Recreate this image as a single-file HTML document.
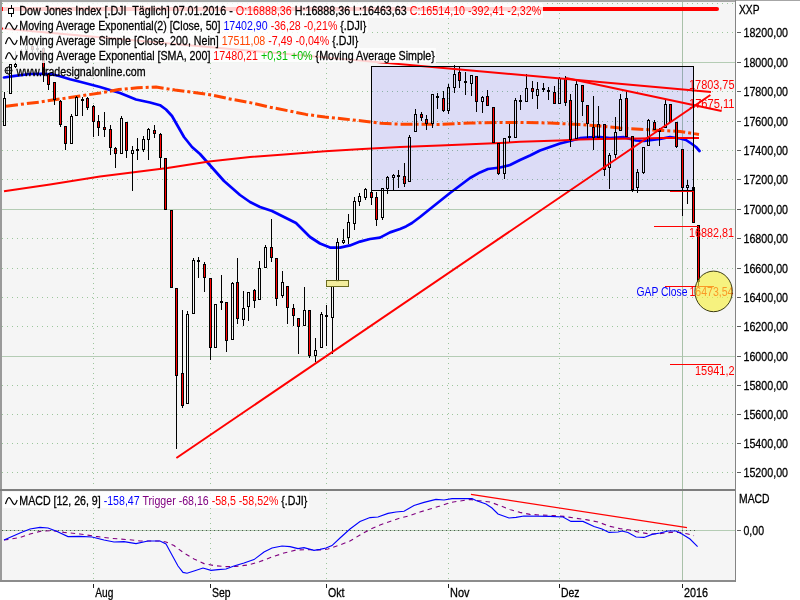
<!DOCTYPE html>
<html lang="de"><head><meta charset="utf-8"><title>Dow Jones Index Chart</title>
<style>html,body{margin:0;padding:0;background:#fff;overflow:hidden}svg{display:block}text{font-family:"Liberation Sans",Arial,sans-serif;font-size:12px;stroke-width:0.28px;white-space:pre}</style></head><body>
<svg width="800" height="600" viewBox="0 0 800 600">
<rect x="0" y="0" width="800" height="600" fill="#ffffff"/>
<rect x="2" y="2" width="733.5" height="487" fill="#f5f5f5"/>
<rect x="2" y="491" width="733.5" height="89.5" fill="#f5f5f5"/>
<g shape-rendering="crispEdges" fill="none">
<line x1="2" y1="3.5" x2="735" y2="3.5" stroke="#9cc69c" stroke-width="1" stroke-dasharray="1 4"/>
<line x1="2" y1="32.5" x2="735" y2="32.5" stroke="#9cc69c" stroke-width="1" stroke-dasharray="1 4"/>
<line x1="2" y1="62.5" x2="735" y2="62.5" stroke="#b4ccb4" stroke-width="1"/>
<line x1="2" y1="91.5" x2="735" y2="91.5" stroke="#9cc69c" stroke-width="1" stroke-dasharray="1 4"/>
<line x1="2" y1="121.5" x2="735" y2="121.5" stroke="#9cc69c" stroke-width="1" stroke-dasharray="1 4"/>
<line x1="2" y1="150.5" x2="735" y2="150.5" stroke="#9cc69c" stroke-width="1" stroke-dasharray="1 4"/>
<line x1="2" y1="179.5" x2="735" y2="179.5" stroke="#9cc69c" stroke-width="1" stroke-dasharray="1 4"/>
<line x1="2" y1="209.5" x2="735" y2="209.5" stroke="#b4ccb4" stroke-width="1"/>
<line x1="2" y1="238.5" x2="735" y2="238.5" stroke="#9cc69c" stroke-width="1" stroke-dasharray="1 4"/>
<line x1="2" y1="268.5" x2="735" y2="268.5" stroke="#9cc69c" stroke-width="1" stroke-dasharray="1 4"/>
<line x1="2" y1="297.5" x2="735" y2="297.5" stroke="#9cc69c" stroke-width="1" stroke-dasharray="1 4"/>
<line x1="2" y1="326.5" x2="735" y2="326.5" stroke="#9cc69c" stroke-width="1" stroke-dasharray="1 4"/>
<line x1="2" y1="356.5" x2="735" y2="356.5" stroke="#b4ccb4" stroke-width="1"/>
<line x1="2" y1="385.5" x2="735" y2="385.5" stroke="#9cc69c" stroke-width="1" stroke-dasharray="1 4"/>
<line x1="2" y1="414.5" x2="735" y2="414.5" stroke="#9cc69c" stroke-width="1" stroke-dasharray="1 4"/>
<line x1="2" y1="443.5" x2="735" y2="443.5" stroke="#9cc69c" stroke-width="1" stroke-dasharray="1 4"/>
<line x1="2" y1="472.5" x2="735" y2="472.5" stroke="#9cc69c" stroke-width="1" stroke-dasharray="1 4"/>
<line x1="93.5" y1="3" x2="93.5" y2="488" stroke="#9cc69c" stroke-width="1" stroke-dasharray="1 4"/>
<line x1="93.5" y1="493" x2="93.5" y2="580" stroke="#9cc69c" stroke-width="1" stroke-dasharray="1 4"/>
<line x1="210.5" y1="3" x2="210.5" y2="488" stroke="#9cc69c" stroke-width="1" stroke-dasharray="1 4"/>
<line x1="210.5" y1="493" x2="210.5" y2="580" stroke="#9cc69c" stroke-width="1" stroke-dasharray="1 4"/>
<line x1="326.5" y1="3" x2="326.5" y2="488" stroke="#9cc69c" stroke-width="1" stroke-dasharray="1 4"/>
<line x1="326.5" y1="493" x2="326.5" y2="580" stroke="#9cc69c" stroke-width="1" stroke-dasharray="1 4"/>
<line x1="448.5" y1="3" x2="448.5" y2="488" stroke="#9cc69c" stroke-width="1" stroke-dasharray="1 4"/>
<line x1="448.5" y1="493" x2="448.5" y2="580" stroke="#9cc69c" stroke-width="1" stroke-dasharray="1 4"/>
<line x1="559.5" y1="3" x2="559.5" y2="488" stroke="#9cc69c" stroke-width="1" stroke-dasharray="1 4"/>
<line x1="559.5" y1="493" x2="559.5" y2="580" stroke="#9cc69c" stroke-width="1" stroke-dasharray="1 4"/>
<line x1="682.5" y1="2" x2="682.5" y2="580" stroke="#a9c1a9" stroke-width="1"/>
<line x1="2" y1="530.5" x2="735" y2="530.5" stroke="#b4ccb4" stroke-width="1"/>
<line x1="2" y1="530.5" x2="697" y2="530.5" stroke="#4a5a4a" stroke-width="1" stroke-dasharray="1 3"/>
</g>
<rect x="371.5" y="66.5" width="322" height="124" fill="#0000ff" fill-opacity="0.1" stroke="none"/>
<polyline points="4.0,77.5 15.0,75.8 30.0,74.0 42.0,73.8 52.0,74.3 60.0,76.2 70.0,79.2 80.0,81.7 100.0,87.0 120.0,93.0 136.0,99.5 150.0,102.5 160.0,105.2 166.0,109.5 172.0,116.0 178.0,126.5 184.0,137.0 192.0,147.0 200.0,154.0 208.0,163.0 216.0,172.0 224.0,181.0 232.0,188.0 240.0,195.0 250.0,202.0 260.0,207.0 272.0,211.0 284.0,217.0 296.0,223.0 303.0,230.0 310.0,237.0 320.0,243.5 330.0,247.6 340.0,247.6 350.0,245.4 360.0,241.6 370.0,239.0 380.0,237.6 390.0,232.4 400.0,229.0 406.0,226.4 412.0,223.0 420.0,217.0 430.0,209.0 440.0,201.0 450.0,193.0 460.0,185.5 470.0,178.0 480.0,172.4 488.0,169.0 500.0,167.5 510.0,165.0 520.0,160.0 530.0,155.5 540.0,150.5 550.0,147.0 560.0,143.5 570.0,141.0 580.0,138.2 590.0,137.4 600.0,137.0 610.0,138.0 624.0,137.2 636.0,140.5 644.0,141.0 660.0,139.0 670.0,137.0 680.0,138.5 686.0,140.0 692.0,144.0 696.0,147.0 699.5,151.0" fill="none" stroke="#0000ff" stroke-width="2.7" stroke-linejoin="round" stroke-linecap="round"/>
<polyline points="4.0,106.4 40.0,102.0 80.0,96.0 100.0,93.0 118.8,89.5 137.5,87.8 156.0,87.0 175.0,90.0 194.0,92.4 212.5,95.2 231.0,99.2 250.0,102.6 269.0,107.0 287.5,110.6 306.0,114.4 325.0,117.0 344.0,119.0 362.5,121.0 381.0,123.2 400.0,124.2 440.0,124.4 470.0,123.0 500.0,122.4 520.0,122.4 550.0,123.0 580.0,124.6 600.0,126.0 620.0,128.0 640.0,129.2 660.0,130.4 680.0,131.4 690.0,133.0 699.0,134.4" fill="none" stroke="#ff4500" stroke-width="3" stroke-dasharray="12 3 3 3" stroke-dashoffset="18.97" stroke-linejoin="round"/>
<polyline points="4.0,191.2 50.0,184.5 100.0,176.5 120.0,174.0 167.5,168.0 209.0,161.5 250.0,157.0 287.5,154.2 325.0,151.3 362.5,149.0 400.0,147.0 440.0,145.4 500.0,143.0 520.0,141.8 560.0,140.4 580.0,139.6 600.0,139.0 620.0,138.7 640.0,138.4 660.0,138.0 699.0,138.0" fill="none" stroke="#ff0000" stroke-width="2" stroke-linejoin="round"/>
<g shape-rendering="crispEdges" stroke="#000" stroke-width="1">
<line x1="4.5" y1="92" x2="4.5" y2="98"/>
<rect x="3.5" y="98.5" width="2" height="27" fill="none"/>
<rect x="9.5" y="64.5" width="2" height="29" fill="none"/>
<line x1="15.5" y1="51" x2="15.5" y2="64"/>
<line x1="15.5" y1="67" x2="15.5" y2="68"/>
<rect x="14.5" y="64.5" width="2" height="2" fill="none"/>
<line x1="21.5" y1="49" x2="21.5" y2="51"/>
<line x1="21.5" y1="53" x2="21.5" y2="60"/>
<rect x="20.5" y="51.5" width="2" height="1" fill="#000000"/>
<line x1="26.5" y1="44" x2="26.5" y2="45"/>
<line x1="26.5" y1="50" x2="26.5" y2="51"/>
<rect x="25.5" y="45.5" width="2" height="4" fill="none"/>
<line x1="32.5" y1="45" x2="32.5" y2="46"/>
<line x1="32.5" y1="50" x2="32.5" y2="53"/>
<rect x="31.5" y="46.5" width="2" height="3" fill="#ff0000"/>
<line x1="37.5" y1="45" x2="37.5" y2="48"/>
<line x1="37.5" y1="50" x2="37.5" y2="52"/>
<rect x="36.5" y="48.5" width="2" height="1" fill="none"/>
<line x1="43.5" y1="47" x2="43.5" y2="48"/>
<line x1="43.5" y1="75" x2="43.5" y2="82"/>
<rect x="42.5" y="48.5" width="2" height="26" fill="#ff0000"/>
<line x1="48.5" y1="73" x2="48.5" y2="74"/>
<line x1="48.5" y1="85" x2="48.5" y2="90"/>
<rect x="47.5" y="74.5" width="2" height="10" fill="#ff0000"/>
<line x1="54.5" y1="100" x2="54.5" y2="105"/>
<rect x="53.5" y="82.5" width="2" height="17" fill="#ff0000"/>
<line x1="60.5" y1="100" x2="60.5" y2="101"/>
<line x1="60.5" y1="125" x2="60.5" y2="127"/>
<rect x="59.5" y="101.5" width="2" height="23" fill="#ff0000"/>
<line x1="65.5" y1="144" x2="65.5" y2="150"/>
<rect x="64.5" y="126.5" width="2" height="17" fill="#ff0000"/>
<line x1="71.5" y1="114" x2="71.5" y2="116"/>
<rect x="70.5" y="116.5" width="2" height="27" fill="none"/>
<line x1="76.5" y1="96" x2="76.5" y2="97"/>
<rect x="75.5" y="97.5" width="2" height="18" fill="none"/>
<line x1="82.5" y1="97" x2="82.5" y2="99"/>
<line x1="82.5" y1="101" x2="82.5" y2="116"/>
<rect x="81.5" y="99.5" width="2" height="1" fill="#000000"/>
<line x1="87.5" y1="97" x2="87.5" y2="98"/>
<line x1="87.5" y1="108" x2="87.5" y2="110"/>
<rect x="86.5" y="98.5" width="2" height="9" fill="#ff0000"/>
<line x1="93.5" y1="105" x2="93.5" y2="106"/>
<line x1="93.5" y1="122" x2="93.5" y2="137"/>
<rect x="92.5" y="106.5" width="2" height="15" fill="#ff0000"/>
<line x1="98.5" y1="115" x2="98.5" y2="121"/>
<line x1="98.5" y1="128" x2="98.5" y2="136"/>
<rect x="97.5" y="121.5" width="2" height="6" fill="#ff0000"/>
<line x1="104.5" y1="112" x2="104.5" y2="127"/>
<line x1="104.5" y1="130" x2="104.5" y2="137"/>
<rect x="103.5" y="127.5" width="2" height="2" fill="#ff0000"/>
<line x1="110.5" y1="125" x2="110.5" y2="129"/>
<line x1="110.5" y1="148" x2="110.5" y2="155"/>
<rect x="109.5" y="129.5" width="2" height="18" fill="#ff0000"/>
<line x1="115.5" y1="147" x2="115.5" y2="148"/>
<line x1="115.5" y1="154" x2="115.5" y2="168"/>
<rect x="114.5" y="148.5" width="2" height="5" fill="#ff0000"/>
<line x1="121.5" y1="116" x2="121.5" y2="118"/>
<rect x="120.5" y="118.5" width="2" height="35" fill="none"/>
<line x1="126.5" y1="151" x2="126.5" y2="158"/>
<rect x="125.5" y="122.5" width="2" height="28" fill="#ff0000"/>
<line x1="132.5" y1="146" x2="132.5" y2="150"/>
<line x1="132.5" y1="154" x2="132.5" y2="191"/>
<rect x="131.5" y="150.5" width="2" height="3" fill="none"/>
<line x1="137.5" y1="138" x2="137.5" y2="149"/>
<line x1="137.5" y1="151" x2="137.5" y2="160"/>
<rect x="136.5" y="149.5" width="2" height="1" fill="#000000"/>
<line x1="143.5" y1="136" x2="143.5" y2="139"/>
<line x1="143.5" y1="150" x2="143.5" y2="152"/>
<rect x="142.5" y="139.5" width="2" height="10" fill="none"/>
<line x1="148.5" y1="128" x2="148.5" y2="129"/>
<line x1="148.5" y1="140" x2="148.5" y2="160"/>
<rect x="147.5" y="129.5" width="2" height="10" fill="none"/>
<line x1="154.5" y1="125" x2="154.5" y2="130"/>
<line x1="154.5" y1="134" x2="154.5" y2="138"/>
<rect x="153.5" y="130.5" width="2" height="3" fill="#ff0000"/>
<line x1="160.5" y1="133" x2="160.5" y2="134"/>
<line x1="160.5" y1="158" x2="160.5" y2="168"/>
<rect x="159.5" y="134.5" width="2" height="23" fill="#ff0000"/>
<rect x="164.5" y="158.5" width="2" height="51" fill="#ff0000"/>
<rect x="170.5" y="210.5" width="2" height="77" fill="#ff0000"/>
<line x1="176.5" y1="376" x2="176.5" y2="449"/>
<rect x="175.5" y="288.5" width="2" height="87" fill="#ff0000"/>
<line x1="182.5" y1="310" x2="182.5" y2="373"/>
<line x1="182.5" y1="406" x2="182.5" y2="408"/>
<rect x="181.5" y="373.5" width="2" height="32" fill="#ff0000"/>
<line x1="187.5" y1="311" x2="187.5" y2="314"/>
<rect x="186.5" y="314.5" width="2" height="89" fill="none"/>
<line x1="193.5" y1="258" x2="193.5" y2="260"/>
<rect x="192.5" y="260.5" width="2" height="53" fill="none"/>
<line x1="198.5" y1="257" x2="198.5" y2="260"/>
<line x1="198.5" y1="262" x2="198.5" y2="278"/>
<rect x="197.5" y="260.5" width="2" height="1" fill="#000000"/>
<line x1="204.5" y1="262" x2="204.5" y2="264"/>
<line x1="204.5" y1="278" x2="204.5" y2="292"/>
<rect x="203.5" y="264.5" width="2" height="13" fill="#ff0000"/>
<line x1="210.5" y1="348" x2="210.5" y2="360"/>
<rect x="209.5" y="278.5" width="2" height="69" fill="#ff0000"/>
<rect x="214.5" y="304.5" width="2" height="43" fill="none"/>
<line x1="221.5" y1="275" x2="221.5" y2="301"/>
<line x1="221.5" y1="303" x2="221.5" y2="310"/>
<rect x="220.5" y="301.5" width="2" height="1" fill="#000000"/>
<line x1="226.5" y1="341" x2="226.5" y2="352"/>
<rect x="225.5" y="302.5" width="2" height="38" fill="#ff0000"/>
<line x1="232.5" y1="282" x2="232.5" y2="283"/>
<rect x="231.5" y="283.5" width="2" height="56" fill="none"/>
<line x1="237.5" y1="258" x2="237.5" y2="282"/>
<line x1="237.5" y1="319" x2="237.5" y2="324"/>
<rect x="236.5" y="282.5" width="2" height="36" fill="#ff0000"/>
<line x1="243.5" y1="291" x2="243.5" y2="308"/>
<line x1="243.5" y1="320" x2="243.5" y2="326"/>
<rect x="242.5" y="308.5" width="2" height="11" fill="none"/>
<line x1="248.5" y1="307" x2="248.5" y2="321"/>
<rect x="247.5" y="292.5" width="2" height="14" fill="none"/>
<line x1="254.5" y1="289" x2="254.5" y2="290"/>
<line x1="254.5" y1="301" x2="254.5" y2="308"/>
<rect x="253.5" y="290.5" width="2" height="10" fill="#ff0000"/>
<line x1="259.5" y1="261" x2="259.5" y2="268"/>
<rect x="258.5" y="268.5" width="2" height="31" fill="none"/>
<line x1="265.5" y1="245" x2="265.5" y2="247"/>
<rect x="264.5" y="247.5" width="2" height="20" fill="none"/>
<line x1="271.5" y1="219" x2="271.5" y2="247"/>
<line x1="271.5" y1="258" x2="271.5" y2="262"/>
<rect x="270.5" y="247.5" width="2" height="10" fill="#ff0000"/>
<line x1="276.5" y1="299" x2="276.5" y2="306"/>
<rect x="275.5" y="258.5" width="2" height="40" fill="#ff0000"/>
<line x1="282.5" y1="271" x2="282.5" y2="282"/>
<line x1="282.5" y1="296" x2="282.5" y2="298"/>
<rect x="281.5" y="282.5" width="2" height="13" fill="none"/>
<line x1="287.5" y1="308" x2="287.5" y2="324"/>
<rect x="286.5" y="286.5" width="2" height="21" fill="#ff0000"/>
<line x1="293.5" y1="304" x2="293.5" y2="308"/>
<line x1="293.5" y1="316" x2="293.5" y2="326"/>
<rect x="292.5" y="308.5" width="2" height="7" fill="#ff0000"/>
<line x1="298.5" y1="327" x2="298.5" y2="354"/>
<rect x="297.5" y="318.5" width="2" height="8" fill="#ff0000"/>
<line x1="304.5" y1="287" x2="304.5" y2="310"/>
<rect x="303.5" y="310.5" width="2" height="15" fill="none"/>
<line x1="309.5" y1="356" x2="309.5" y2="358"/>
<rect x="308.5" y="310.5" width="2" height="45" fill="#ff0000"/>
<line x1="315.5" y1="338" x2="315.5" y2="350"/>
<line x1="315.5" y1="356" x2="315.5" y2="362"/>
<rect x="314.5" y="350.5" width="2" height="5" fill="none"/>
<line x1="321.5" y1="312" x2="321.5" y2="314"/>
<rect x="320.5" y="314.5" width="2" height="33" fill="none"/>
<line x1="326.5" y1="305" x2="326.5" y2="315"/>
<line x1="326.5" y1="317" x2="326.5" y2="346"/>
<rect x="325.5" y="315.5" width="2" height="1" fill="#000000"/>
<line x1="332.5" y1="318" x2="332.5" y2="354"/>
<rect x="331.5" y="286.5" width="2" height="31" fill="none"/>
<line x1="337.5" y1="238" x2="337.5" y2="242"/>
<rect x="336.5" y="242.5" width="2" height="39" fill="none"/>
<line x1="343.5" y1="229" x2="343.5" y2="240"/>
<line x1="343.5" y1="243" x2="343.5" y2="244"/>
<rect x="342.5" y="240.5" width="2" height="2" fill="none"/>
<line x1="348.5" y1="214" x2="348.5" y2="222"/>
<line x1="348.5" y1="238" x2="348.5" y2="244"/>
<rect x="347.5" y="222.5" width="2" height="15" fill="none"/>
<line x1="354.5" y1="197" x2="354.5" y2="201"/>
<line x1="354.5" y1="224" x2="354.5" y2="230"/>
<rect x="353.5" y="201.5" width="2" height="22" fill="none"/>
<line x1="359.5" y1="193" x2="359.5" y2="196"/>
<line x1="359.5" y1="202" x2="359.5" y2="206"/>
<rect x="358.5" y="196.5" width="2" height="5" fill="none"/>
<line x1="365.5" y1="188" x2="365.5" y2="189"/>
<line x1="365.5" y1="198" x2="365.5" y2="200"/>
<rect x="364.5" y="189.5" width="2" height="8" fill="none"/>
<line x1="371.5" y1="191" x2="371.5" y2="192"/>
<line x1="371.5" y1="198" x2="371.5" y2="205"/>
<rect x="370.5" y="192.5" width="2" height="5" fill="#ff0000"/>
<line x1="376.5" y1="192" x2="376.5" y2="197"/>
<line x1="376.5" y1="220" x2="376.5" y2="226"/>
<rect x="375.5" y="197.5" width="2" height="22" fill="#ff0000"/>
<line x1="382.5" y1="218" x2="382.5" y2="220"/>
<rect x="381.5" y="188.5" width="2" height="29" fill="none"/>
<line x1="387.5" y1="176" x2="387.5" y2="177"/>
<line x1="387.5" y1="189" x2="387.5" y2="194"/>
<rect x="386.5" y="177.5" width="2" height="11" fill="none"/>
<line x1="393.5" y1="174" x2="393.5" y2="175"/>
<line x1="393.5" y1="178" x2="393.5" y2="190"/>
<rect x="392.5" y="175.5" width="2" height="2" fill="none"/>
<line x1="398.5" y1="170" x2="398.5" y2="175"/>
<line x1="398.5" y1="177" x2="398.5" y2="188"/>
<rect x="397.5" y="175.5" width="2" height="1" fill="#ff0000"/>
<line x1="404.5" y1="163" x2="404.5" y2="176"/>
<line x1="404.5" y1="184" x2="404.5" y2="187"/>
<rect x="403.5" y="176.5" width="2" height="7" fill="#ff0000"/>
<line x1="409.5" y1="135" x2="409.5" y2="137"/>
<rect x="408.5" y="137.5" width="2" height="44" fill="none"/>
<line x1="415.5" y1="109" x2="415.5" y2="114"/>
<rect x="414.5" y="114.5" width="2" height="17" fill="none"/>
<line x1="421.5" y1="112" x2="421.5" y2="114"/>
<line x1="421.5" y1="118" x2="421.5" y2="121"/>
<rect x="420.5" y="114.5" width="2" height="3" fill="#ff0000"/>
<line x1="426.5" y1="115" x2="426.5" y2="119"/>
<line x1="426.5" y1="124" x2="426.5" y2="130"/>
<rect x="425.5" y="119.5" width="2" height="4" fill="#ff0000"/>
<line x1="432.5" y1="124" x2="432.5" y2="128"/>
<rect x="431.5" y="94.5" width="2" height="29" fill="none"/>
<line x1="437.5" y1="93" x2="437.5" y2="96"/>
<line x1="437.5" y1="98" x2="437.5" y2="109"/>
<rect x="436.5" y="96.5" width="2" height="1" fill="#ff0000"/>
<line x1="443.5" y1="91" x2="443.5" y2="98"/>
<line x1="443.5" y1="111" x2="443.5" y2="112"/>
<rect x="442.5" y="98.5" width="2" height="12" fill="#ff0000"/>
<line x1="448.5" y1="84" x2="448.5" y2="87"/>
<line x1="448.5" y1="111" x2="448.5" y2="114"/>
<rect x="447.5" y="87.5" width="2" height="23" fill="none"/>
<line x1="454.5" y1="65" x2="454.5" y2="74"/>
<line x1="454.5" y1="88" x2="454.5" y2="93"/>
<rect x="453.5" y="74.5" width="2" height="13" fill="none"/>
<line x1="459.5" y1="67" x2="459.5" y2="72"/>
<line x1="459.5" y1="81" x2="459.5" y2="88"/>
<rect x="458.5" y="72.5" width="2" height="8" fill="#ff0000"/>
<line x1="465.5" y1="72" x2="465.5" y2="81"/>
<line x1="465.5" y1="83" x2="465.5" y2="95"/>
<rect x="464.5" y="81.5" width="2" height="1" fill="#000000"/>
<line x1="471.5" y1="84" x2="471.5" y2="96"/>
<rect x="470.5" y="75.5" width="2" height="8" fill="none"/>
<line x1="476.5" y1="102" x2="476.5" y2="112"/>
<rect x="475.5" y="76.5" width="2" height="25" fill="#ff0000"/>
<line x1="482.5" y1="96" x2="482.5" y2="97"/>
<line x1="482.5" y1="102" x2="482.5" y2="113"/>
<rect x="481.5" y="97.5" width="2" height="4" fill="none"/>
<line x1="487.5" y1="90" x2="487.5" y2="96"/>
<rect x="486.5" y="96.5" width="2" height="9" fill="#ff0000"/>
<rect x="492.5" y="107.5" width="2" height="35" fill="#ff0000"/>
<line x1="498.5" y1="174" x2="498.5" y2="175"/>
<rect x="497.5" y="143.5" width="2" height="30" fill="#ff0000"/>
<line x1="504.5" y1="174" x2="504.5" y2="179"/>
<rect x="503.5" y="138.5" width="2" height="35" fill="none"/>
<line x1="509.5" y1="124" x2="509.5" y2="136"/>
<line x1="509.5" y1="138" x2="509.5" y2="142"/>
<rect x="508.5" y="136.5" width="2" height="1" fill="#000000"/>
<line x1="515.5" y1="98" x2="515.5" y2="100"/>
<rect x="514.5" y="100.5" width="2" height="37" fill="none"/>
<line x1="520.5" y1="95" x2="520.5" y2="100"/>
<line x1="520.5" y1="102" x2="520.5" y2="110"/>
<rect x="519.5" y="100.5" width="2" height="1" fill="#000000"/>
<line x1="526.5" y1="74" x2="526.5" y2="88"/>
<rect x="525.5" y="88.5" width="2" height="13" fill="none"/>
<line x1="532.5" y1="81" x2="532.5" y2="88"/>
<line x1="532.5" y1="92" x2="532.5" y2="99"/>
<rect x="531.5" y="88.5" width="2" height="3" fill="#ff0000"/>
<line x1="537.5" y1="82" x2="537.5" y2="89"/>
<line x1="537.5" y1="96" x2="537.5" y2="109"/>
<rect x="536.5" y="89.5" width="2" height="6" fill="none"/>
<line x1="543.5" y1="83" x2="543.5" y2="88"/>
<line x1="543.5" y1="90" x2="543.5" y2="92"/>
<rect x="542.5" y="88.5" width="2" height="1" fill="#000000"/>
<line x1="548.5" y1="87" x2="548.5" y2="90"/>
<line x1="548.5" y1="92" x2="548.5" y2="100"/>
<rect x="547.5" y="90.5" width="2" height="1" fill="#000000"/>
<line x1="554.5" y1="86" x2="554.5" y2="92"/>
<rect x="553.5" y="92.5" width="2" height="11" fill="#ff0000"/>
<line x1="559.5" y1="77" x2="559.5" y2="78"/>
<rect x="558.5" y="78.5" width="2" height="25" fill="none"/>
<line x1="565.5" y1="76" x2="565.5" y2="78"/>
<line x1="565.5" y1="103" x2="565.5" y2="106"/>
<rect x="564.5" y="78.5" width="2" height="24" fill="#ff0000"/>
<line x1="570.5" y1="94" x2="570.5" y2="100"/>
<line x1="570.5" y1="140" x2="570.5" y2="147"/>
<rect x="569.5" y="100.5" width="2" height="39" fill="#ff0000"/>
<line x1="576.5" y1="81" x2="576.5" y2="84"/>
<rect x="575.5" y="84.5" width="2" height="54" fill="none"/>
<line x1="582.5" y1="102" x2="582.5" y2="116"/>
<rect x="581.5" y="85.5" width="2" height="16" fill="#ff0000"/>
<line x1="587.5" y1="124" x2="587.5" y2="138"/>
<rect x="586.5" y="105.5" width="2" height="18" fill="#ff0000"/>
<line x1="593.5" y1="96" x2="593.5" y2="127"/>
<line x1="593.5" y1="138" x2="593.5" y2="150"/>
<rect x="592.5" y="127.5" width="2" height="10" fill="#ff0000"/>
<line x1="598.5" y1="106" x2="598.5" y2="124"/>
<rect x="597.5" y="124.5" width="2" height="13" fill="none"/>
<line x1="604.5" y1="170" x2="604.5" y2="176"/>
<rect x="603.5" y="124.5" width="2" height="45" fill="#ff0000"/>
<line x1="609.5" y1="153" x2="609.5" y2="155"/>
<line x1="609.5" y1="168" x2="609.5" y2="189"/>
<rect x="608.5" y="155.5" width="2" height="12" fill="none"/>
<line x1="615.5" y1="117" x2="615.5" y2="132"/>
<line x1="615.5" y1="155" x2="615.5" y2="158"/>
<rect x="614.5" y="132.5" width="2" height="22" fill="none"/>
<line x1="620.5" y1="94" x2="620.5" y2="99"/>
<rect x="619.5" y="99.5" width="2" height="31" fill="none"/>
<line x1="626.5" y1="91" x2="626.5" y2="98"/>
<rect x="625.5" y="98.5" width="2" height="38" fill="#ff0000"/>
<line x1="632.5" y1="190" x2="632.5" y2="192"/>
<rect x="631.5" y="136.5" width="2" height="53" fill="#ff0000"/>
<line x1="637.5" y1="169" x2="637.5" y2="172"/>
<line x1="637.5" y1="188" x2="637.5" y2="193"/>
<rect x="636.5" y="172.5" width="2" height="15" fill="none"/>
<line x1="643.5" y1="173" x2="643.5" y2="174"/>
<rect x="642.5" y="147.5" width="2" height="25" fill="none"/>
<line x1="648.5" y1="119" x2="648.5" y2="120"/>
<rect x="647.5" y="120.5" width="2" height="25" fill="none"/>
<line x1="654.5" y1="120" x2="654.5" y2="122"/>
<rect x="653.5" y="122.5" width="2" height="7" fill="#ff0000"/>
<line x1="659.5" y1="128" x2="659.5" y2="130"/>
<line x1="659.5" y1="132" x2="659.5" y2="146"/>
<rect x="658.5" y="130.5" width="2" height="1" fill="#000000"/>
<line x1="665.5" y1="100" x2="665.5" y2="104"/>
<rect x="664.5" y="104.5" width="2" height="23" fill="none"/>
<rect x="669.5" y="104.5" width="2" height="17" fill="#ff0000"/>
<line x1="676.5" y1="147" x2="676.5" y2="148"/>
<rect x="675.5" y="122.5" width="2" height="24" fill="#ff0000"/>
<line x1="682.5" y1="188" x2="682.5" y2="216"/>
<rect x="681.5" y="149.5" width="2" height="38" fill="#ff0000"/>
<line x1="687.5" y1="180" x2="687.5" y2="185"/>
<line x1="687.5" y1="188" x2="687.5" y2="204"/>
<rect x="686.5" y="185.5" width="2" height="2" fill="none"/>
<rect x="692.5" y="187.5" width="2" height="35" fill="#ff0000"/>
<line x1="698.5" y1="282" x2="698.5" y2="288"/>
<rect x="697.5" y="225.5" width="2" height="56" fill="#ff0000"/>
</g>
<rect x="326.5" y="280.5" width="22" height="6" fill="#f3ec94" fill-opacity="0.9" stroke="#6b6b20" stroke-width="1" shape-rendering="crispEdges"/>
<text x="689" y="89" fill="#ff0000" textLength="45.5" lengthAdjust="spacingAndGlyphs">17803,75</text>
<text x="689" y="108" fill="#ff0000" textLength="45.5" lengthAdjust="spacingAndGlyphs">17675,11</text>
<text x="689" y="237" fill="#ff0000" textLength="45" lengthAdjust="spacingAndGlyphs">16882,81</text>
<text x="636.5" y="296" fill="#0000ff" textLength="51" lengthAdjust="spacingAndGlyphs">GAP Close</text>
<text x="689.5" y="296" fill="#ff0000" textLength="44" lengthAdjust="spacingAndGlyphs">16473,54</text>
<text x="695" y="375" fill="#ff0000" textLength="39.5" lengthAdjust="spacingAndGlyphs">15941,2</text>
<g stroke="#ff0000" fill="none">
<line x1="2" y1="9" x2="717" y2="9" stroke-width="4" stroke-linecap="round"/>
<line x1="2" y1="28.4" x2="711" y2="92" stroke-width="2"/>
<line x1="566" y1="78" x2="721.6" y2="111" stroke-width="2"/>
<line x1="176.4" y1="458" x2="710.4" y2="95" stroke-width="2"/>
<line x1="670" y1="191.5" x2="693.5" y2="191.5" stroke-width="1" shape-rendering="crispEdges"/>
<line x1="654" y1="226.5" x2="699" y2="226.5" stroke-width="1" shape-rendering="crispEdges"/>
<line x1="665" y1="286.5" x2="714" y2="286.5" stroke-width="1" shape-rendering="crispEdges"/>
<line x1="670" y1="364.5" x2="720.6" y2="364.5" stroke-width="1" shape-rendering="crispEdges"/>
<line x1="471" y1="494.4" x2="687" y2="527.6" stroke-width="1.2"/>
</g>
<rect x="371.5" y="66.5" width="322" height="124" fill="none" stroke="#000" stroke-width="1" shape-rendering="crispEdges"/>
<ellipse cx="713.6" cy="291.4" rx="18.7" ry="20.3" fill="#f6f03c" fill-opacity="0.64" stroke="#3c3c14" stroke-width="1"/>
<polyline points="4.0,540.0 20.0,537.6 30.0,534.0 40.0,531.4 52.0,530.6 64.0,532.4 80.0,534.0 96.0,536.4 112.0,538.4 128.0,539.6 140.0,541.0 160.0,541.0 166.0,542.0 174.0,545.6 184.0,553.0 194.0,559.0 204.0,563.6 214.0,565.6 226.0,566.6 236.0,566.4 248.0,565.0 260.0,561.6 272.0,557.0 284.0,553.0 296.0,550.0 308.0,549.6 320.0,550.0 328.0,549.0 340.0,545.0 350.0,541.0 360.0,535.0 370.0,529.4 380.0,525.0 390.0,521.4 400.0,518.0 410.0,515.6 420.0,512.0 430.0,509.0 440.0,506.0 450.0,502.6 460.0,501.0 470.0,499.4 478.0,500.6 490.0,502.0 500.0,505.6 510.0,509.6 520.0,512.4 530.0,514.4 540.0,515.0 554.0,515.6 564.0,516.4 574.0,518.0 586.0,519.6 598.0,522.0 610.0,526.4 620.0,528.6 630.0,530.0 640.0,532.4 650.0,534.0 660.0,533.6 670.0,532.4 680.0,532.4 688.0,534.0 694.0,535.6" fill="none" stroke="#800080" stroke-width="1.1" stroke-dasharray="4.5 4"/>
<polyline points="4.0,540.0 20.0,533.0 30.0,529.0 40.0,527.4 48.0,528.0 56.0,531.0 68.0,536.6 80.0,536.4 92.0,537.0 104.0,540.0 114.0,542.0 124.0,541.6 136.0,543.6 148.0,541.0 160.0,541.0 166.0,544.0 172.0,555.0 178.0,566.0 183.0,572.4 187.0,573.2 194.0,571.0 203.0,568.0 211.0,570.4 218.0,569.6 226.0,569.0 234.0,566.0 244.0,563.0 254.0,559.6 264.0,552.0 272.0,548.0 282.0,546.0 290.0,546.6 298.0,548.6 304.0,547.6 314.0,550.4 320.0,549.4 326.0,548.0 332.0,545.6 340.0,538.0 350.0,529.0 360.0,521.6 370.0,517.6 378.0,517.0 388.0,513.4 396.0,512.0 404.0,511.2 414.0,505.6 424.0,502.4 436.0,499.4 444.0,500.0 452.0,498.6 472.0,498.6 476.0,500.6 486.0,504.0 492.0,508.0 498.0,514.0 509.0,518.0 516.0,517.4 524.0,516.0 550.0,516.4 563.0,517.0 571.0,521.4 583.0,521.4 594.0,526.4 602.0,529.0 609.0,532.4 618.0,532.0 622.0,531.0 628.0,532.4 636.0,537.0 644.0,537.4 652.0,534.4 660.0,533.0 668.0,531.0 676.0,531.0 682.0,534.0 690.0,539.0 697.6,546.6" fill="none" stroke="#0000ff" stroke-width="1.1"/>
<g shape-rendering="crispEdges">
<rect x="0" y="0" width="800" height="2" fill="#a6a6a6"/>
<rect x="0" y="0" width="2" height="582" fill="#9a9a9a"/>
<rect x="0" y="489" width="736" height="2" fill="#7e7e7e"/>
<rect x="0" y="580" width="736" height="2" fill="#8c8c8c"/>
<rect x="735" y="0" width="1" height="582" fill="#848484"/>
<rect x="736" y="0" width="64" height="2" fill="#ffffff"/>
<rect x="736" y="0" width="64" height="1" fill="#a6a6a6"/>
<rect x="737" y="32" width="4" height="1" fill="#5a5a5a"/>
<rect x="737" y="62" width="4" height="1" fill="#5a5a5a"/>
<rect x="737" y="91" width="4" height="1" fill="#5a5a5a"/>
<rect x="737" y="121" width="4" height="1" fill="#5a5a5a"/>
<rect x="737" y="150" width="4" height="1" fill="#5a5a5a"/>
<rect x="737" y="179" width="4" height="1" fill="#5a5a5a"/>
<rect x="737" y="209" width="4" height="1" fill="#5a5a5a"/>
<rect x="737" y="238" width="4" height="1" fill="#5a5a5a"/>
<rect x="737" y="268" width="4" height="1" fill="#5a5a5a"/>
<rect x="737" y="297" width="4" height="1" fill="#5a5a5a"/>
<rect x="737" y="326" width="4" height="1" fill="#5a5a5a"/>
<rect x="737" y="356" width="4" height="1" fill="#5a5a5a"/>
<rect x="737" y="385" width="4" height="1" fill="#5a5a5a"/>
<rect x="737" y="414" width="4" height="1" fill="#5a5a5a"/>
<rect x="737" y="443" width="4" height="1" fill="#5a5a5a"/>
<rect x="737" y="472" width="4" height="1" fill="#5a5a5a"/>
<rect x="737" y="530" width="4" height="1" fill="#5a5a5a"/>
<rect x="93" y="584" width="1" height="4" fill="#202020"/>
<rect x="210" y="584" width="1" height="4" fill="#202020"/>
<rect x="326" y="584" width="1" height="4" fill="#202020"/>
<rect x="448" y="584" width="1" height="4" fill="#202020"/>
<rect x="559" y="584" width="1" height="4" fill="#202020"/>
<rect x="682" y="584" width="1" height="4" fill="#202020"/>
</g>
<text x="743.5" y="36.5" fill="#000" stroke="#000" textLength="44.5" lengthAdjust="spacingAndGlyphs">18200,00</text>
<text x="743.5" y="66.5" fill="#000" stroke="#000" textLength="44.5" lengthAdjust="spacingAndGlyphs">18000,00</text>
<text x="743.5" y="95.5" fill="#000" stroke="#000" textLength="44.5" lengthAdjust="spacingAndGlyphs">17800,00</text>
<text x="743.5" y="125.5" fill="#000" stroke="#000" textLength="44.5" lengthAdjust="spacingAndGlyphs">17600,00</text>
<text x="743.5" y="154.5" fill="#000" stroke="#000" textLength="44.5" lengthAdjust="spacingAndGlyphs">17400,00</text>
<text x="743.5" y="183.5" fill="#000" stroke="#000" textLength="44.5" lengthAdjust="spacingAndGlyphs">17200,00</text>
<text x="743.5" y="213.5" fill="#000" stroke="#000" textLength="44.5" lengthAdjust="spacingAndGlyphs">17000,00</text>
<text x="743.5" y="242.5" fill="#000" stroke="#000" textLength="44.5" lengthAdjust="spacingAndGlyphs">16800,00</text>
<text x="743.5" y="272.5" fill="#000" stroke="#000" textLength="44.5" lengthAdjust="spacingAndGlyphs">16600,00</text>
<text x="743.5" y="301.5" fill="#000" stroke="#000" textLength="44.5" lengthAdjust="spacingAndGlyphs">16400,00</text>
<text x="743.5" y="330.5" fill="#000" stroke="#000" textLength="44.5" lengthAdjust="spacingAndGlyphs">16200,00</text>
<text x="743.5" y="360.5" fill="#000" stroke="#000" textLength="44.5" lengthAdjust="spacingAndGlyphs">16000,00</text>
<text x="743.5" y="389.5" fill="#000" stroke="#000" textLength="44.5" lengthAdjust="spacingAndGlyphs">15800,00</text>
<text x="743.5" y="418.5" fill="#000" stroke="#000" textLength="44.5" lengthAdjust="spacingAndGlyphs">15600,00</text>
<text x="743.5" y="447.5" fill="#000" stroke="#000" textLength="44.5" lengthAdjust="spacingAndGlyphs">15400,00</text>
<text x="743.5" y="476.5" fill="#000" stroke="#000" textLength="44.5" lengthAdjust="spacingAndGlyphs">15200,00</text>
<text x="739" y="14" fill="#000" stroke="#000" textLength="20.5" lengthAdjust="spacingAndGlyphs">XXP</text>
<text x="739" y="503" fill="#000" stroke="#000" textLength="30.5" lengthAdjust="spacingAndGlyphs">MACD</text>
<text x="743.5" y="535" fill="#000" stroke="#000" textLength="20.5" lengthAdjust="spacingAndGlyphs">0,00</text>
<text x="95.3" y="596.5" fill="#000" stroke="#000" textLength="18.0" lengthAdjust="spacingAndGlyphs">Aug</text>
<text x="212.0" y="596.5" fill="#000" stroke="#000" textLength="18.5" lengthAdjust="spacingAndGlyphs">Sep</text>
<text x="328.0" y="596.5" fill="#000" stroke="#000" textLength="16.5" lengthAdjust="spacingAndGlyphs">Okt</text>
<text x="450.0" y="596.5" fill="#000" stroke="#000" textLength="19.5" lengthAdjust="spacingAndGlyphs">Nov</text>
<text x="561.0" y="596.5" fill="#000" stroke="#000" textLength="18.5" lengthAdjust="spacingAndGlyphs">Dez</text>
<text x="684.0" y="596.5" fill="#000" stroke="#000" textLength="24.0" lengthAdjust="spacingAndGlyphs">2016</text>
<g fill="#ffffff" fill-opacity="0.82" shape-rendering="crispEdges">
<rect x="3" y="3" width="540" height="15"/>
<rect x="3" y="18" width="365" height="15"/>
<rect x="3" y="33" width="356" height="15"/>
<rect x="3" y="48" width="433" height="15"/>
</g>
<rect x="3" y="492" width="306" height="16" fill="#ffffff" fill-opacity="0.85" shape-rendering="crispEdges"/>
<g stroke="#000" stroke-width="1" fill="none">
<path d="M11.5 5v3.5M11.5 13.5v3.5" shape-rendering="crispEdges"/><rect x="8.500" y="8.500" width="5" height="5" fill="#fff" shape-rendering="crispEdges"/>
<path d="M5.5 29.0C6.5 26.0 7.5 22.5 9 22.5C11 22.5 12.5 29.5 14.5 29.5C15.8 29.5 16.5 27.0 17.2 25.0" stroke-width="1.25"/>
<path d="M5.5 44.0C6.5 41.0 7.5 37.5 9 37.5C11 37.5 12.5 44.5 14.5 44.5C15.8 44.5 16.5 42.0 17.2 40.0" stroke-width="1.25"/>
<path d="M5.5 59.0C6.5 56.0 7.5 52.5 9 52.5C11 52.5 12.5 59.5 14.5 59.5C15.8 59.5 16.5 57.0 17.2 55.0" stroke-width="1.25"/>
<path d="M5.5 504.0C6.5 501.0 7.5 497.5 9 497.5C11 497.5 12.5 504.5 14.5 504.5C15.8 504.5 16.5 502.0 17.2 500.0" stroke-width="1.25"/>
<circle cx="8.500" cy="70.500" r="3.5" stroke-width="1"/><ellipse cx="8.500" cy="70.500" rx="1.6" ry="3.5" stroke-width="0.8"/><path d="M5 70.5h7" stroke-width="0.7"/>
</g>
<text x="19.3" y="15.3" textLength="522.0" lengthAdjust="spacingAndGlyphs" xml:space="preserve"><tspan fill="#000000" stroke="#000000">Dow Jones Index [.DJI  Täglich] 07.01.2016 - </tspan><tspan fill="#ff0000" stroke="none">O:16888,36</tspan><tspan fill="#000000" stroke="#000000"> H:16888,36 L:16463,63 </tspan><tspan fill="#ff0000" stroke="none">C:16514,10 -392,41 -2,32%</tspan></text>
<text x="19.3" y="30.3" textLength="347.0" lengthAdjust="spacingAndGlyphs" xml:space="preserve"><tspan fill="#000000" stroke="#000000">Moving Average Exponential(2) [Close, 50] </tspan><tspan fill="#0000ff" stroke="none">17402,90</tspan><tspan fill="#ff0000" stroke="none"> -36,28 -0,21%</tspan><tspan fill="#000000" stroke="#000000"> {.DJI}</tspan></text>
<text x="19.3" y="45.3" textLength="339.0" lengthAdjust="spacingAndGlyphs" xml:space="preserve"><tspan fill="#000000" stroke="#000000">Moving Average Simple [Close, 200, Nein] </tspan><tspan fill="#ff4500" stroke="none">17511,08</tspan><tspan fill="#ff0000" stroke="none"> -7,49 -0,04%</tspan><tspan fill="#000000" stroke="#000000"> {.DJI}</tspan></text>
<text x="19.3" y="60.3" textLength="415.5" lengthAdjust="spacingAndGlyphs" xml:space="preserve"><tspan fill="#000000" stroke="#000000">Moving Average Exponential [SMA, 200] </tspan><tspan fill="#ff0000" stroke="none">17480,21</tspan><tspan fill="#00c000" stroke="none"> +0,31 +0%</tspan><tspan fill="#000000" stroke="#000000"> {Moving Average Simple}</tspan></text>
<text x="16.5" y="76.4" fill="#000" stroke="#000" textLength="129" lengthAdjust="spacingAndGlyphs">www.tradesignalonline.com</text>
<text x="19.3" y="504.5" textLength="288.0" lengthAdjust="spacingAndGlyphs" xml:space="preserve"><tspan fill="#000000" stroke="#000000">MACD [12, 26, 9] </tspan><tspan fill="#0000ff" stroke="none">-158,47</tspan><tspan fill="#800080" stroke="none"> Trigger -68,16</tspan><tspan fill="#ff0000" stroke="none"> -58,5 -58,52%</tspan><tspan fill="#000000" stroke="#000000"> {.DJI}</tspan></text>
</svg></body></html>
